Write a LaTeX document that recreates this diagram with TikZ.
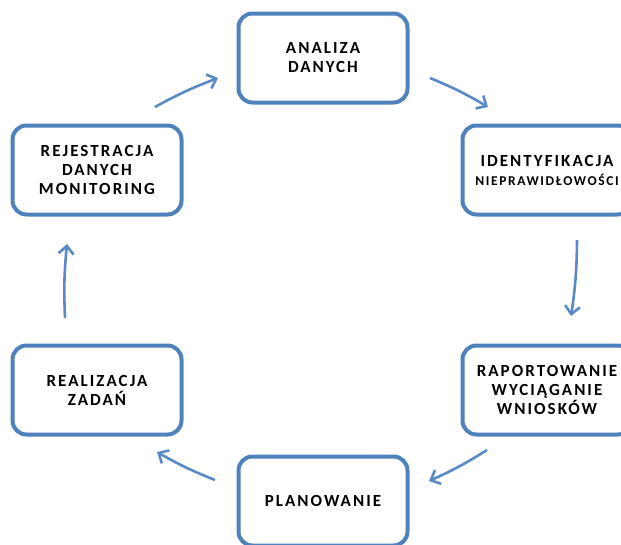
\documentclass[tikz,border=0pt]{standalone}
\usepackage{fontspec}
\setmainfont[LetterSpace=12]{Carlito}
\usetikzlibrary{arrows.meta}

\definecolor{stageblue}{HTML}{4F81BD}
\definecolor{flowblue}{HTML}{5A8AC6}

\tikzset{
    stage/.style={draw=stageblue, line width=4pt, rounded corners=14pt, fill=white,
        minimum width=169pt, minimum height=89pt, align=center,
        font=\fontsize{17}{19}\selectfont\bfseries},
    flow/.style={draw=flowblue, line width=2.6pt,
        -{Straight Barb[length=8pt,width=15pt]}}
}

\begin{document}
\begin{tikzpicture}[x=1pt,y=-1pt]

    \useasboundingbox (0,0) rectangle (621,544);

    % Stages of the cycle
    \foreach \name/\x/\y/\txt in {
        ana/323/58/{ANALIZA\\DANYCH},
        ide/547/170/{IDENTYFIKACJA\\{\fontsize{13.5}{17}\selectfont NIEPRAWIDŁOWOŚCI}},
        rap/547/390/{RAPORTOWANIE\\WYCIĄGANIE\\WNIOSKÓW},
        pla/323/501/{PLANOWANIE},
        rea/97/390/{REALIZACJA\\ZADAŃ},
        rej/97/170/{REJESTRACJA\\DANYCH\\MONITORING}}
    {
        \node[stage] (\name) at (\x,\y) {\txt};
    }

    % Arrow ends
    \coordinate (rej-out) at (155,107);
    \coordinate (ana-in)  at (218,78);
    \coordinate (ana-out) at (430,78);
    \coordinate (ide-in)  at (488,107);
    \coordinate (ide-out) at (577,240);
    \coordinate (rap-in)  at (571,316);
    \coordinate (rap-out) at (487,450);
    \coordinate (pla-in)  at (429,481);
    \coordinate (pla-out) at (215,480);
    \coordinate (rea-in)  at (157,452);
    \coordinate (rea-out) at (65,318);
    \coordinate (rej-in)  at (67,244);

    % Arrows, clockwise
    \foreach \a/\b in {rej-out/ana-in, ana-out/ide-in, ide-out/rap-in,
                       rap-out/pla-in, pla-out/rea-in, rea-out/rej-in}
        \draw[flow] (\a) to[bend left=4] (\b);

\end{tikzpicture}
\end{document}
